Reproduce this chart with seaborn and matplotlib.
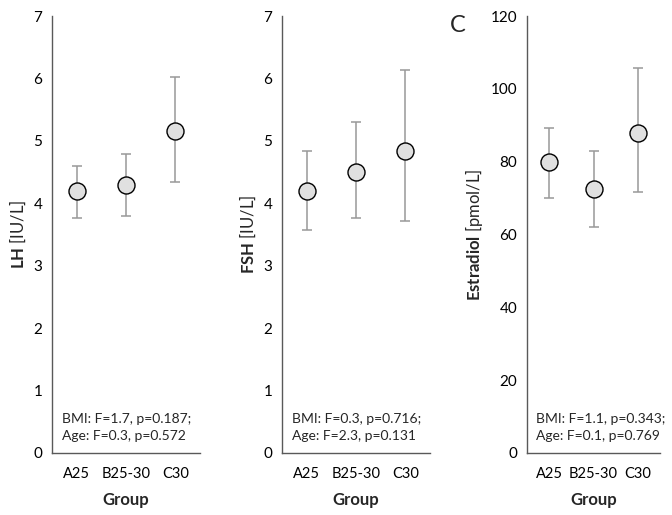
import pandas as pd
import matplotlib.pyplot as plt
import seaborn as sns
import numpy as np

# Данные
groups = ['A25', 'B25-30', 'C30']

lh_mean = [4.19, 4.29, 5.15]
lh_low = [3.76, 3.80, 4.34]
lh_high = [4.60, 4.79, 6.02]

fsh_mean = [4.19, 4.50, 4.83]
fsh_low = [3.57, 3.76, 3.72]
fsh_high = [4.83, 5.31, 6.14]

e2_mean = [79.8, 72.4, 88.0]
e2_low = [70.1, 62.1, 71.6]
e2_high = [89.3, 83.0, 105.7]

stats_text = ['BMI: F=1.7, p=0.187;\nAge: F=0.3, p=0.572',
              'BMI: F=0.3, p=0.716;\nAge: F=2.3, p=0.131',
              'BMI: F=1.1, p=0.343;\nAge: F=0.1, p=0.769']

sns.set_style("white")
plt.rcParams['font.family'] = ['Lato', 'DejaVu Sans']
plt.rcParams['mathtext.fontset'] = 'custom'
plt.rcParams['mathtext.rm'] = 'Lato'
plt.rcParams['mathtext.bf'] = 'Lato:bold'

fig = plt.figure(figsize=(6.72, 5.15), dpi=100)

panels = [
    dict(mean=lh_mean, low=lh_low, high=lh_high, ylim=(0, 7), yticks=np.arange(0, 8, 1),
         ylabel=r'$\mathbf{LH}$ [IU/L]', rect=[52/672, 62/515, 148/672, 437/515]),
    dict(mean=fsh_mean, low=fsh_low, high=fsh_high, ylim=(0, 7), yticks=np.arange(0, 8, 1),
         ylabel=r'$\mathbf{FSH}$ [IU/L]', rect=[282/672, 62/515, 148/672, 437/515]),
    dict(mean=e2_mean, low=e2_low, high=e2_high, ylim=(0, 120), yticks=np.arange(0, 121, 20),
         ylabel=r'$\mathbf{Estradiol}$ [pmol/L]', rect=[527/672, 62/515, 133/672, 437/515]),
]

axis_col = '#595959'

for i, p in enumerate(panels):
    ax = fig.add_axes(p['rect'])
    df = pd.DataFrame({'group': groups, 'mean': p['mean'],
                       'low': p['low'], 'high': p['high']})
    x = np.arange(len(groups))
    ax.errorbar(x, df['mean'],
                yerr=[df['mean'] - df['low'], df['high'] - df['mean']],
                fmt='none', ecolor='#999999', elinewidth=1.1, capsize=3.5,
                capthick=1.1, zorder=1)
    sns.scatterplot(data=df, x='group', y='mean', ax=ax, s=150, color='#e0e0e0',
                    edgecolor='black', linewidth=1.0, zorder=3, legend=False)

    ax.set_xlim(-0.5, 2.5)
    ax.set_ylim(*p['ylim'])
    ax.set_yticks(p['yticks'])
    ax.set_xticks(x)
    ax.set_xticklabels(groups)
    ax.set_xticks([0.5, 1.5, 2.5], minor=True)
    ax.tick_params(axis='x', which='major', length=0, pad=10, labelsize=10.5, colors='black')
    ax.tick_params(axis='x', which='minor', length=4, width=1, color=axis_col, direction='out')
    ax.tick_params(axis='y', length=4, width=1, color=axis_col, direction='out',
                   labelsize=11, labelcolor='black', pad=3)
    for s in ['top', 'right']:
        ax.spines[s].set_visible(False)
    for s in ['left', 'bottom']:
        ax.spines[s].set_color(axis_col)
        ax.spines[s].set_linewidth(1.0)
    ax.set_xlabel('Group', fontsize=12, fontweight='bold', labelpad=8)
    ax.set_ylabel(p['ylabel'], fontsize=12, labelpad=4)
    ax.text(0.07, 0.025, stats_text[i], transform=ax.transAxes, fontsize=10,
            ha='left', va='bottom', linespacing=1.55)

fig.text(458/672, 1 - 25/515, 'C', fontsize=17, ha='center', va='center')

plt.savefig('out.png', dpi=100)
